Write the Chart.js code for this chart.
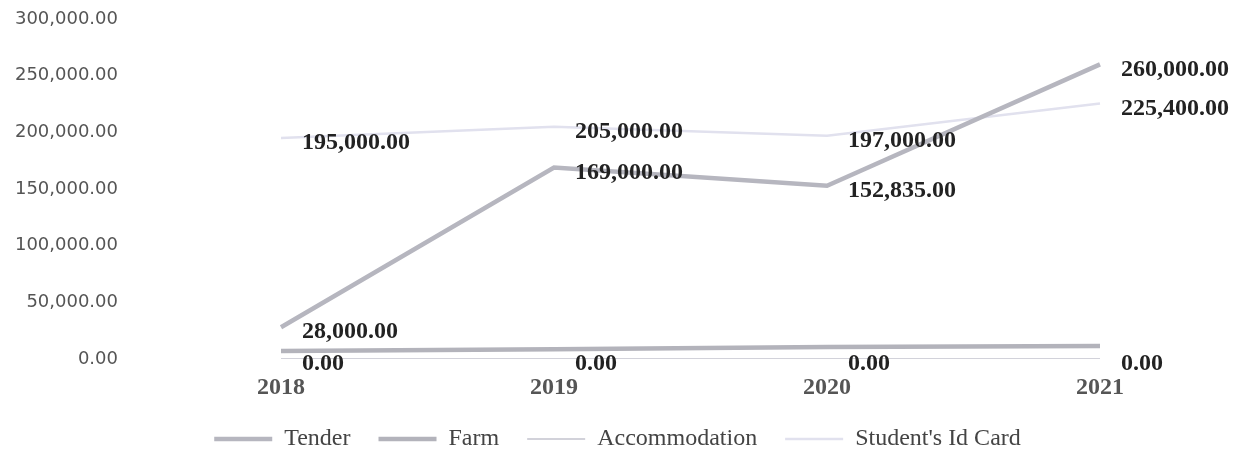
<!DOCTYPE html>
<html>
<head>
<meta charset="utf-8">
<script src="https://cdn.jsdelivr.net/npm/chart.js@4.4.0/dist/chart.umd.min.js"></script>
<style>
  html, body { margin: 0; padding: 0; background: #fff; overflow: hidden; }
  #wrap { width: 1235px; height: 461px; position: relative; }
</style>
</head>
<body>
<div id="wrap"><canvas id="costChart"></canvas></div>
<script>
/* ── 데이터 ── */
var years = ['2018', '2019', '2020', '2021'];
var tender = [28000, 169000, 152835, 260000];
var farm = [7000, 8500, 10500, 11500];
var accommodation = [0, 0, 0, 0];
var studentIdCard = [195000, 205000, 197000, 225400];
var yTicks = [0, 50000, 100000, 150000, 200000, 250000, 300000];

function fmt(v) {
  return v.toLocaleString('en-US', { minimumFractionDigits: 2, maximumFractionDigits: 2 });
}

/* ── 값 라벨 (점 오른쪽) ── */
var valueLabels = {
  id: 'valueLabels',
  afterDatasetsDraw: function(chart) {
    var ctx = chart.ctx;
    ctx.save();
    ctx.font = 'bold 24px "Liberation Serif", "Times New Roman", serif';
    ctx.fillStyle = '#222';
    ctx.textAlign = 'left';
    ctx.textBaseline = 'middle';
    chart.data.datasets.forEach(function(ds, di) {
      if (!ds.showValues) return;
      chart.getDatasetMeta(di).data.forEach(function(pt, i) {
        ctx.fillText(fmt(ds.data[i]), pt.x + 21, pt.y + 5);
      });
    });
    ctx.restore();
  }
};

new Chart(document.getElementById('costChart').getContext('2d'), {
  type: 'line',
  data: {
    labels: years,
    datasets: [{
      label: 'Tender', data: tender,
      borderColor: '#b6b6bf', backgroundColor: '#b6b6bf',
      borderWidth: 4.5, pointRadius: 0, tension: 0, showValues: true
    }, {
      label: 'Farm', data: farm,
      borderColor: '#b3b3bb', backgroundColor: '#b3b3bb',
      borderWidth: 4.5, pointRadius: 0, tension: 0, showValues: false
    }, {
      label: 'Accommodation', data: accommodation,
      borderColor: '#d2d2da', backgroundColor: '#d2d2da',
      borderWidth: 2, pointRadius: 0, tension: 0, showValues: true
    }, {
      label: "Student's Id Card", data: studentIdCard,
      borderColor: '#e1e1ee', backgroundColor: '#e1e1ee',
      borderWidth: 2.5, pointRadius: 0, tension: 0, showValues: true
    }]
  },
  options: {
    responsive: true,
    maintainAspectRatio: false,
    animation: false,
    layout: { padding: { top: 19, right: 0, bottom: 0, left: 0 } },
    plugins: {
      legend: {
        position: 'bottom',
        labels: {
          usePointStyle: true,
          pointStyle: 'line',
          pointStyleWidth: 58,
          padding: 28,
          color: '#444',
          font: { family: '"Liberation Serif", "Times New Roman", serif', size: 24 }
        }
      },
      tooltip: { enabled: false }
    },
    scales: {
      x: {
        grid: { display: false, drawTicks: false },
        border: { display: false },
        afterFit: function(axis) {
          axis.height = 40;
          axis.paddingRight = 135;
        },
        ticks: {
          padding: 14,
          color: '#555',
          font: { family: '"Liberation Serif", "Times New Roman", serif', size: 24, weight: 'bold' }
        }
      },
      y: {
        min: 0,
        max: 300000,
        grid: { display: false, drawTicks: false },
        border: { display: false },
        afterBuildTicks: function(axis) {
          axis.ticks = yTicks.map(function(v) { return { value: v }; });
        },
        afterFit: function(axis) {
          axis.width = 281;
          axis.paddingTop = 8;
          axis.paddingBottom = 8;
        },
        ticks: {
          padding: 163,
          color: '#555',
          font: { family: '"DejaVu Sans", Verdana, sans-serif', size: 18 },
          callback: function(v) { return fmt(v); }
        }
      }
    }
  },
  plugins: [valueLabels]
});
</script>
</body>
</html>
